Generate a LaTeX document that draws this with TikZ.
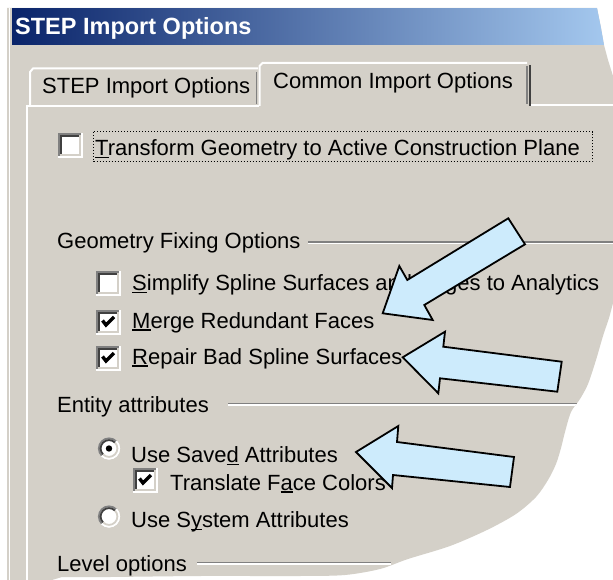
\documentclass[tikz,border=0pt]{standalone}
\usepackage{fontspec}
\setmainfont{Liberation Sans}
\definecolor{dlg}{HTML}{D4D0C8}
\definecolor{shadowc}{HTML}{808080}
\definecolor{darkc}{HTML}{404040}
\definecolor{titleL}{HTML}{0A246A}
\definecolor{titleR}{HTML}{A6CAF0}
\definecolor{arrowblue}{HTML}{CDEBFC}
% underline for keyboard mnemonics
\newcommand\mnemo[1]{\setbox0\hbox{#1}\rlap{\rule[-2.8pt]{\wd0}{1.4pt}}#1}
% outline of the torn dialog window
\newcommand\dlgoutline{(7,8) -- (597,8) -- (601,28) -- (604,45) -- (608,60) -- (613,76) -- (613,303)
  -- plot[smooth] coordinates {(613,303) (609,318) (603,336) (596,360) (588,384) (580,399) (571,412)
  (565,432) (561,448) (556,464) (548,480) (536,497) (516,514) (487,530) (450,546) (408,559)
  (380,569) (345,575) (300,576) (200,576) (110,577) (62,577)} -- (52,580) -- (7,580) -- cycle}
\tikzset{
  ui/.style={inner sep=0pt, anchor=base west, font=\fontsize{22}{26}\selectfont, text=black},
  etchdark/.style={draw=shadowc, line width=1.5pt},
  etchlight/.style={draw=white, line width=1.5pt},
  arrowbox/.style={fill=arrowblue, draw=black, line width=1.8pt, line join=miter},
  chkbox/.pic={
    \fill[white] (-12.5,-12.5) rectangle (12.5,12.5);
    \draw[shadowc, line width=2pt] (-11.5,12.5) -- (-11.5,-11.5) -- (12.5,-11.5);
    \draw[darkc, line width=2pt] (-9.5,10.5) -- (-9.5,-9.5) -- (10.5,-9.5);
    \draw[white, line width=2pt] (-12.5,11.5) -- (11.5,11.5) -- (11.5,-12.5);
    \draw[dlg, line width=2pt] (-10.5,9.5) -- (9.5,9.5) -- (9.5,-10.5);
  },
  chkmark/.pic={
    \draw[black, line width=3.4pt, line join=miter] (-6,-2) -- (-2.5,2.5) -- (5.5,-5.5);
  },
  radio/.pic={
    \fill[white] (0,0) circle (11);
    \draw[shadowc, line width=1.8pt] (-45:10.2) arc (-45:-225:10.2);
    \draw[darkc, line width=1.8pt] (-45:8.4) arc (-45:-225:8.4);
    \draw[white, line width=1.8pt] (-45:10.2) arc (-45:135:10.2);
    \draw[dlg, line width=1.8pt] (-45:8.4) arc (-45:135:8.4);
  },
  radiodot/.pic={\fill[black] (0,0) circle (3.2);}
}
\begin{document}
\begin{tikzpicture}[x=1pt, y=-1pt]
\useasboundingbox (0,0) rectangle (613,580);
\fill[white] (0,0) rectangle (613,580);

% window body
\fill[dlg] \dlgoutline;
\begin{scope}
  \clip \dlgoutline;
  % title bar
  \shade[left color=titleL, right color=titleR] (12,9) rectangle (613,45);
  % window frame highlight
  \draw[white, line width=1.5pt] (9.5,8) -- (9.5,580);
  % tab panel border
  \draw[white, line width=2pt] (27,580) -- (27,106) -- (259,106);
  \draw[white, line width=2pt] (530,105) -- (613,105);
  % inactive tab
  \draw[white, line width=2pt] (30,106) -- (30,72) -- (33,68.5) -- (258,68.5);
  \draw[shadowc, line width=1.2pt] (256.5,72) -- (256.5,104);
  % active tab
  \draw[white, line width=2pt] (259.5,106) -- (259.5,66) -- (262.5,63) -- (527,63);
  \draw[shadowc, line width=1.5pt] (527,66) -- (527,104);
  \draw[darkc, line width=2pt] (530,65) -- (530,106);
  % group separators
  \draw[etchdark] (308,242) -- (613,242);
  \draw[etchlight] (308,243.5) -- (613,243.5);
  \draw[etchdark] (228,403.5) -- (613,403.5);
  \draw[etchlight] (228,405) -- (613,405);
  \draw[etchdark] (197,562.5) -- (391,562.5);
  \draw[etchlight] (197,564) -- (391,564);
\end{scope}

% title and tabs
\node[ui, font=\fontsize{23.5}{28}\selectfont\bfseries, text=white] (title) at (15,35) {STEP Import Options};
\node[ui] (tabstep) at (42,94) {STEP Import Options};
\node[ui] (tabcommon) at (273,89) {Common Import Options};

% transform option
\pic at (70.5,146) {chkbox};
\node[ui] (transform) at (95,155.5) {\mnemo{T}ransform Geometry to Active Construction Plane};
\draw[black, dotted, line width=1pt] (93.5,132) rectangle (592,162);

% geometry fixing options
\node[ui] (geomfix) at (57,248) {Geometry Fixing Options};
\pic at (108.5,283) {chkbox};
\node[ui] (simplify) at (132,290.5) {\mnemo{S}implify Spline Surfaces and Edges to Analytics};
\pic at (108.5,322.5) {chkbox};
\pic at (108.5,322.5) {chkmark};
\node[ui] (merge) at (132,328) {\mnemo{M}erge Redundant Faces};
\pic at (108.5,358.5) {chkbox};
\pic at (108.5,358.5) {chkmark};
\node[ui] (repair) at (132,364) {\mnemo{R}epair Bad Spline Surfaces};

% entity attributes
\node[ui] (entity) at (57,412.5) {Entity attributes};
\pic at (109,448.5) {radio};
\pic at (109,448.5) {radiodot};
\node[ui] (saved) at (131,462.5) {Use Save\mnemo{d} Attributes};
\pic at (145.5,480.5) {chkbox};
\pic at (145.5,480.5) {chkmark};
\node[ui] (facecol) at (170,490) {Translate F\mnemo{a}ce Colors};
\pic at (109,516.5) {radio};
\node[ui] (system) at (131,527.5) {Use S\mnemo{y}stem Attributes};

% level options
\node[ui] (level) at (57,571) {Level options};

% call-out arrows
\draw[arrowbox] (382.7,313.3) -- (399.3,266) -- (407.3,280) -- (508.3,218.3) -- (525,244.3)
  -- (424.3,305) -- (432.7,320) -- cycle;
\draw[arrowbox] (402.7,357.3) -- (445,331.7) -- (443.3,346.7) -- (561.7,361.7) -- (557.3,391.7)
  -- (440,378.3) -- (438.3,393.3) -- cycle;
\draw[arrowbox] (356,452) -- (398.3,426) -- (397,442) -- (514,457) -- (510,487)
  -- (393,475) -- (392,488) -- cycle;
\end{tikzpicture}
\end{document}
